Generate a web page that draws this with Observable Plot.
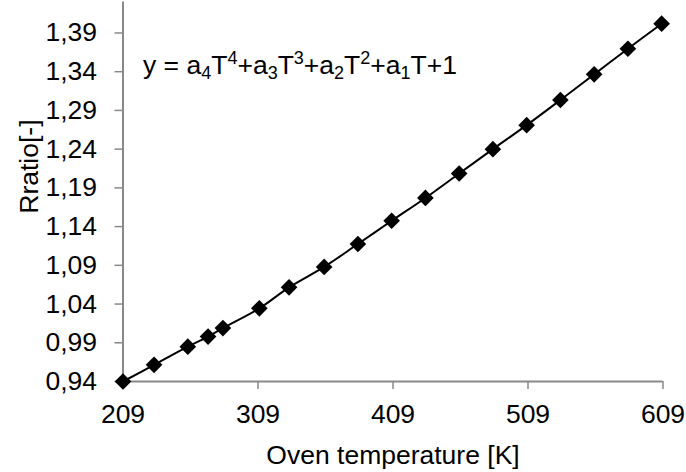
<!DOCTYPE html>
<html><head><meta charset="utf-8">
<script src="https://cdn.jsdelivr.net/npm/d3@7"></script>
<script src="https://cdn.jsdelivr.net/npm/@observablehq/plot@0.6"></script>
<style>body{margin:0;background:#fff}</style>
</head><body><div id="chart"></div>
<script>
const temperature = [209, 232, 257, 272, 283, 310, 332, 358, 383, 408, 433, 458, 483, 508, 533, 558, 583, 608];
const ratio = [0.94, 0.9615, 0.985, 0.998, 1.009, 1.0345, 1.0616, 1.088, 1.1175, 1.1475, 1.177, 1.2085, 1.24, 1.271, 1.3035, 1.3366, 1.3697, 1.402];
const xTicks = [209, 309, 409, 509, 609];
const yTicks = [0.94, 0.99, 1.04, 1.09, 1.14, 1.19, 1.24, 1.29, 1.34, 1.39];
const xTitle = "Oven temperature [K]";
const yTitle = "Rratio[-]";
// [text, position]: 0 normal, -1 subscript, 1 superscript
const equationParts = [["y = a",0],["4",-1],["T",0],["4",1],["+a",0],["3",-1],["T",0],["3",1],["+a",0],["2",-1],["T",0],["2",1],["+a",0],["1",-1],["T+1",0]];
const equation = equationParts.map(p => p[0]).join("");

const data = temperature.map((t, i) => ({t, r: ratio[i]}));
const fmt = d => d.toFixed(2).replace(".", ",");
const axisGray = "#898989";

const chart = Plot.plot({
  width: 686, height: 472,
  marginLeft: 122.5, marginRight: 23.5, marginTop: 1.5, marginBottom: 91,
  style: {fontFamily: "'Liberation Sans', Arial, sans-serif", fontSize: "26.5px", color: "black", background: "white"},
  x: {domain: [209, 609]},
  y: {domain: [0.94, 1.43]},
  marks: [
    Plot.axisX({ticks: xTicks, tickSize: 8, tickPadding: 15, stroke: axisGray, strokeWidth: 1.5, fill: "black", tickFormat: d => String(d), label: null}),
    Plot.axisY({ticks: yTicks, tickSize: 8, tickPadding: 18, stroke: axisGray, strokeWidth: 1.5, fill: "black", tickFormat: fmt, label: null}),
    Plot.ruleX([209], {stroke: axisGray, strokeWidth: 2}),
    Plot.ruleY([0.94], {stroke: axisGray, strokeWidth: 2}),
    Plot.line(data, {x: "t", y: "r", stroke: "black", strokeWidth: 2, curve: "catmull-rom"}),
    Plot.dot(data, {x: "t", y: "r", symbol: "diamond2", r: 7.5, fill: "black", stroke: "none"}),
    Plot.text([xTitle], {frameAnchor: "bottom", text: d => d, lineAnchor: "bottom", dy: 82, fill: "black"}),
    Plot.text([yTitle], {frameAnchor: "left", text: d => d, rotate: -90, lineAnchor: "bottom", dx: -85.2, dy: 22, fill: "black"}),
    Plot.text([equation], {frameAnchor: "top-left", textAnchor: "start", lineAnchor: "bottom", dx: 20, dy: 71.8, text: d => d, fill: "black"})
  ]
});

const eqText = [...chart.querySelectorAll("text")].find(t => t.textContent === equation);
if (eqText) {
  eqText.textContent = "";
  let offset = 0;
  for (const [s, pos] of equationParts) {
    const target = pos === -1 ? 5 : pos === 1 ? -10 : 0;
    const ts = document.createElementNS("http://www.w3.org/2000/svg", "tspan");
    ts.setAttribute("dy", (target - offset) + "px");
    if (pos !== 0) ts.setAttribute("font-size", "18px");
    ts.textContent = s;
    eqText.appendChild(ts);
    offset = target;
  }
}
document.getElementById("chart").appendChild(chart);
</script>
</body></html>
